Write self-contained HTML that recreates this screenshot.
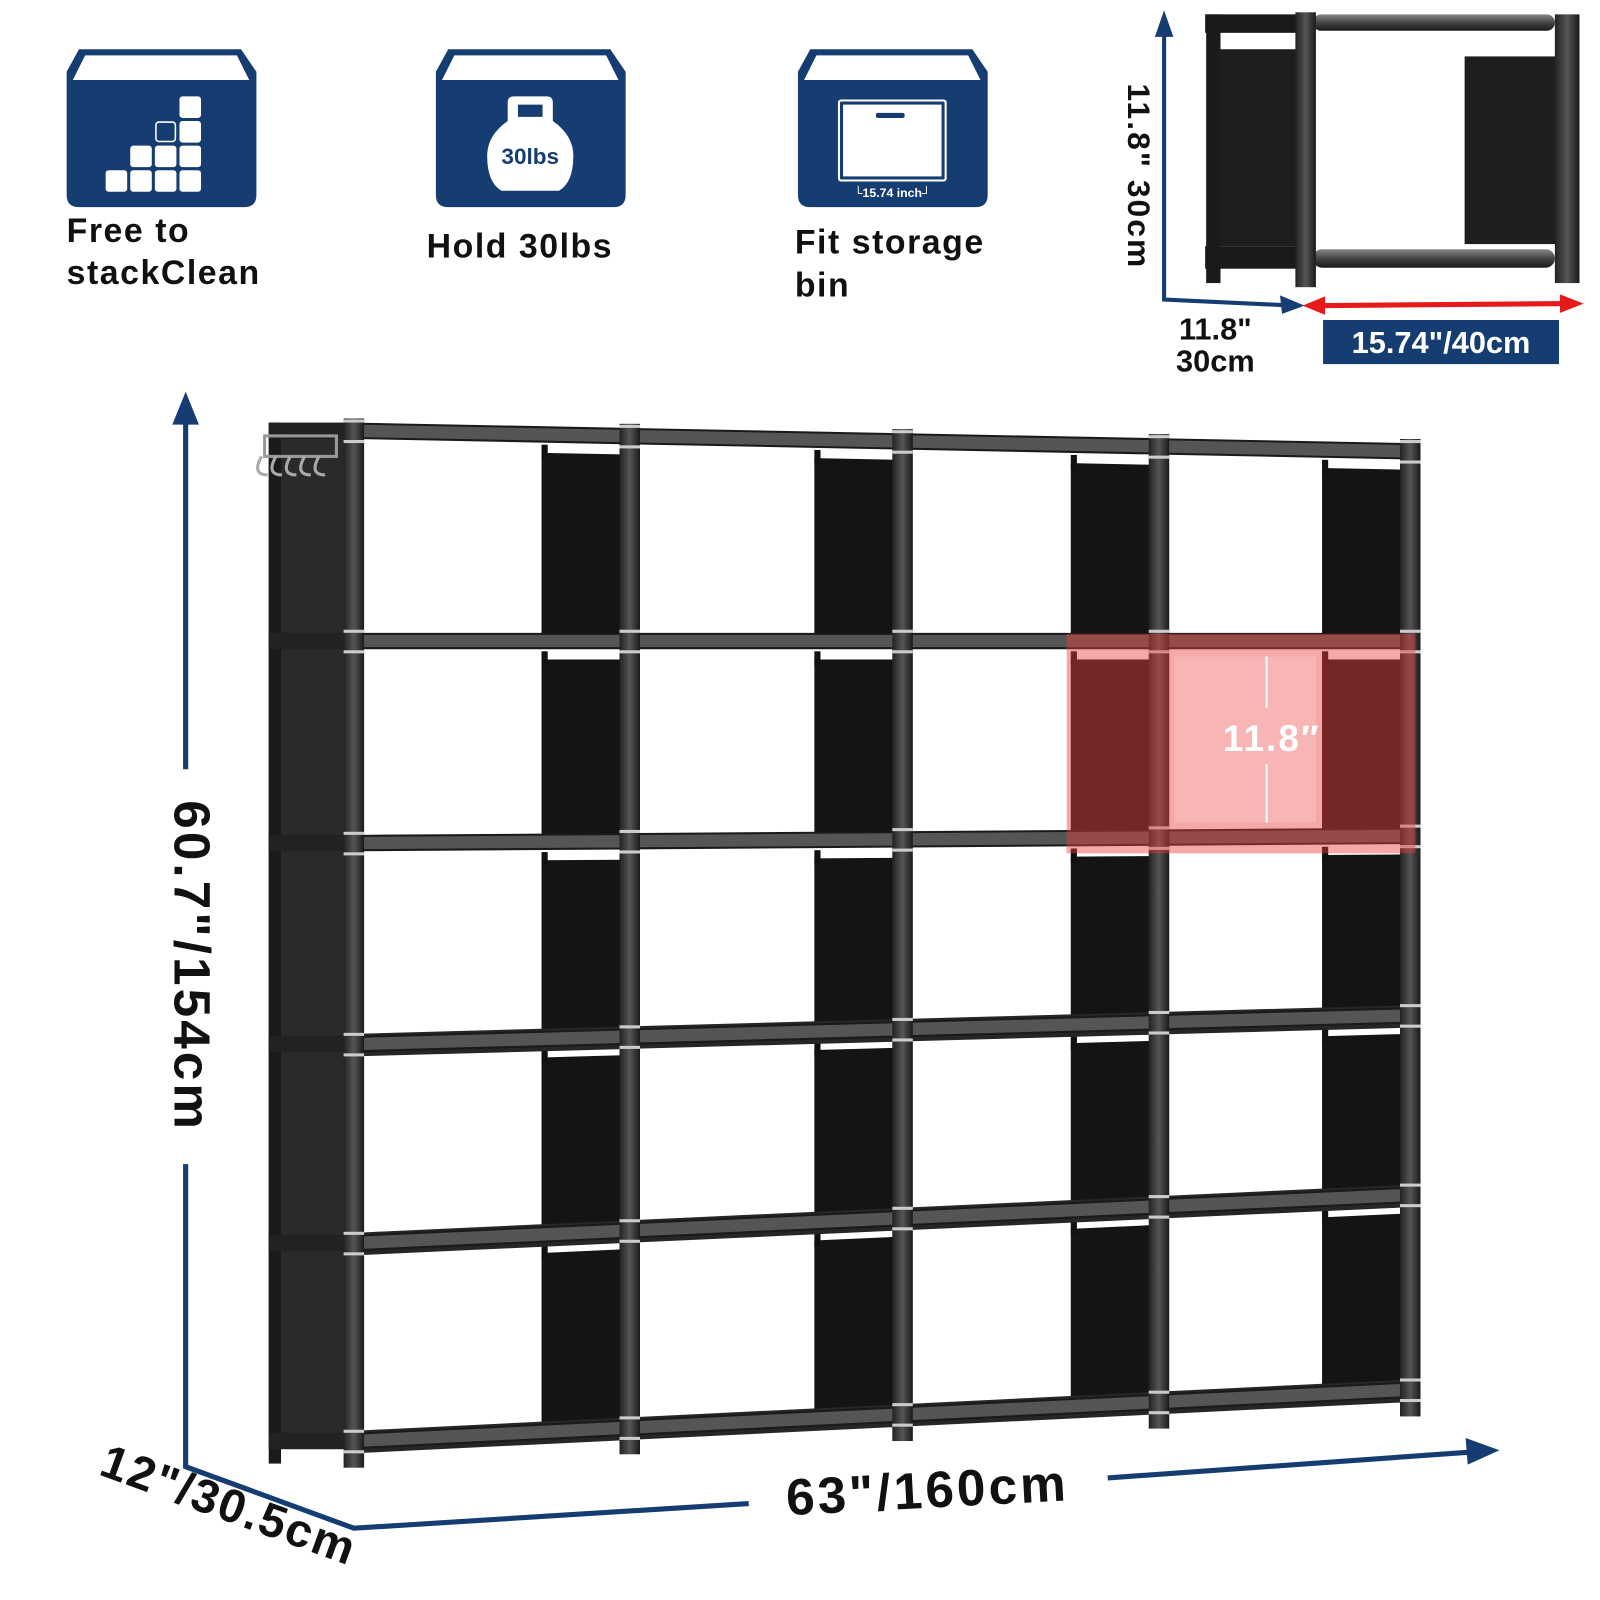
<!DOCTYPE html>
<html><head><meta charset="utf-8"><style>
html,body{margin:0;padding:0;background:#fff;width:1600px;height:1600px;overflow:hidden}
svg{display:block}
text{font-family:"Liberation Sans",sans-serif;font-weight:bold}
</style></head><body>
<svg id="s" width="1600" height="1600" viewBox="0 0 1560 1560" xmlns="http://www.w3.org/2000/svg">
<defs>
<linearGradient id="rod" x1="0" y1="0" x2="0" y2="1"><stop offset="0" stop-color="#888"/><stop offset="0.5" stop-color="#444"/><stop offset="1" stop-color="#1a1a1a"/></linearGradient>
<linearGradient id="post" x1="0" y1="0" x2="1" y2="0"><stop offset="0" stop-color="#222"/><stop offset="0.5" stop-color="#555"/><stop offset="1" stop-color="#1a1a1a"/></linearGradient>
</defs>
<g fill="#163d72">
<g transform="translate(65,48)"><path d="M12,0 H170 L185,22 V142 Q185,154 173,154 H12 Q0,154 0,142 V22 Z"/><path d="M18,6 H166 L178,30 H6 Z" fill="#fff"/>
<g fill="#fff"><rect x="38" y="118" width="21" height="21" rx="3"/><rect x="62" y="118" width="21" height="21" rx="3"/><rect x="86" y="118" width="21" height="21" rx="3"/><rect x="110" y="118" width="21" height="21" rx="3"/><rect x="62" y="94" width="21" height="21" rx="3"/><rect x="86" y="94" width="21" height="21" rx="3"/><rect x="110" y="94" width="21" height="21" rx="3"/><rect x="110" y="70" width="21" height="21" rx="3"/><rect x="110" y="46" width="21" height="21" rx="3"/><rect x="87" y="71" width="19" height="19" rx="3" fill="none" stroke="#fff" stroke-width="1.5"/></g></g>
<g transform="translate(425,48)"><path d="M12,0 H170 L185,22 V142 Q185,154 173,154 H12 Q0,154 0,142 V22 Z"/><path d="M18,6 H166 L178,30 H6 Z" fill="#fff"/>
<path d="M70,52 Q70,46 76,46 H108 Q114,46 114,52 V70 Q134,84 134,104 Q134,130 120,138 H64 Q50,130 50,104 Q50,84 70,70 Z M80,54 V66 H104 V54 Z" fill="#fff" fill-rule="evenodd"/>
<text x="92" y="112" font-size="22" fill="#163d72" text-anchor="middle">30lbs</text></g>
<g transform="translate(778,48)"><path d="M12,0 H170 L185,22 V142 Q185,154 173,154 H12 Q0,154 0,142 V22 Z"/><path d="M18,6 H166 L178,30 H6 Z" fill="#fff"/>
<rect x="40" y="50" width="104" height="78" rx="2" fill="none" stroke="#fff" stroke-width="2"/><rect x="44" y="54" width="96" height="70" fill="#fff"/><rect x="76" y="62" width="28" height="5" rx="2"/>
<text x="92" y="144" font-size="12" fill="#fff" text-anchor="middle">└15.74 inch┘</text></g>
</g>
<g font-size="33" fill="#111" letter-spacing="1.5">
<text x="65" y="236">Free  to</text><text x="65" y="277">stackClean</text>
<text x="416" y="251">Hold  30lbs</text>
<text x="775" y="247">Fit  storage</text><text x="775" y="289">bin</text>
</g>
<g>
<rect x="1190" y="48" width="78" height="192" fill="#1e1e1e"/>
<rect x="1428" y="55" width="94" height="183" fill="#1e1e1e"/>
<rect x="1175" y="14" width="100" height="18" fill="#1a1a1a"/>
<rect x="1280" y="14" width="236" height="16" rx="8" fill="url(#rod)"/>
<rect x="1175" y="240" width="100" height="22" fill="#1a1a1a"/>
<rect x="1280" y="243" width="236" height="18" rx="9" fill="url(#rod)"/>
<rect x="1176" y="14" width="14" height="262" fill="#1a1a1a"/>
<rect x="1263" y="12" width="20" height="268" fill="url(#post)"/>
<rect x="1516" y="14" width="24" height="262" fill="url(#post)"/>
</g>
<g stroke="#163d72" stroke-width="4" fill="none"><path d="M1135,22 V292 L1262,298"/></g>
<path d="M1135,10 L1126,36 L1144,36 Z" fill="#163d72"/>
<path d="M1272,298 L1248,288 L1250,306 Z" fill="#163d72"/>
<line x1="1280" y1="298" x2="1526" y2="296" stroke="#e61a1a" stroke-width="5"/>
<path d="M1270,298 L1292,289 L1292,307 Z M1544,296 L1521,287 L1521,305 Z" fill="#e61a1a"/>
<text transform="translate(1100,172) rotate(90)" font-size="31" fill="#111" text-anchor="middle" letter-spacing="2">11.8"  30cm</text>
<text x="1185" y="331" font-size="30" fill="#111" text-anchor="middle">11.8"</text>
<text x="1185" y="362" font-size="30" fill="#111" text-anchor="middle">30cm</text>
<rect x="1290" y="312" width="230" height="43" fill="#163d72"/>
<text x="1405" y="344" font-size="30" fill="#fff" text-anchor="middle">15.74"/40cm</text>
<g stroke="#163d72" stroke-width="5" fill="none">
<path d="M181,400 V750"/><path d="M181,1135 V1430 L345,1490 L730,1466"/><path d="M1080,1441 L1445,1415"/>
</g>
<path d="M181,382 L168,414 L194,414 Z" fill="#163d72"/>
<path d="M1462,1414 L1429,1402 L1431,1428 Z" fill="#163d72"/>
<text transform="translate(170,942) rotate(90)" font-size="50" fill="#111" text-anchor="middle" letter-spacing="3">60.7"/154cm</text>
<text transform="translate(905,1470) rotate(-3)" font-size="50" fill="#111" text-anchor="middle" letter-spacing="3">63"/160cm</text>
<text transform="translate(218,1482) rotate(20)" font-size="46" fill="#111" text-anchor="middle" letter-spacing="2">12"/30.5cm</text>
<g id="shelf"></g>
<rect x="1040" y="618" width="340" height="214" fill="rgba(235,60,60,0.45)"/>
<rect x="1145" y="640" width="138" height="162" fill="#f7b5b5"/>
<line x1="1235" y1="640" x2="1235" y2="690" stroke="#fff" stroke-width="2"/><line x1="1235" y1="745" x2="1235" y2="802" stroke="#fff" stroke-width="2"/>
<text x="1240" y="732" font-size="36" fill="#fff" text-anchor="middle" letter-spacing="2">11.8″</text>
</svg>
<script>
var g=document.getElementById('shelf'),NS='http://www.w3.org/2000/svg';
function el(t,a){var e=document.createElementNS(NS,t);for(var k in a)e.setAttribute(k,a[k]);g.appendChild(e);return e;}
var P=[345,614,880,1130,1375];
var L=[420,625,822,1018,1212,1405],R=[440,625,815,990,1165,1355];
function Y(x,j){return L[j]+(R[j]-L[j])*(x-345)/1030;}
el('polygon',{points:'262,418 345,420 345,1405 262,1400',fill:'#2a2a2a'});
el('rect',{x:262,y:412,width:12,height:1015,fill:'#1a1a1a'});
for(var j=0;j<6;j++){el('rect',{x:262,y:Y(345,j)-8,width:90,height:16,fill:'#222'});}
for(var i=0;i<4;i++){var x2=P[i+1]-8,x1=x2-78;
 for(var j=0;j<5;j++){var a=Y(x1,j)+18,b=Y(x1,j+1)-6,c=Y(x2,j)+18,d=Y(x2,j+1)-6;
  el('polygon',{points:x1+','+a+' '+x2+','+c+' '+x2+','+d+' '+x1+','+b,fill:'#141414'});
  el('rect',{x:x1,y:a-8,width:6,height:14,fill:'#111'});}}
for(var i=0;i<4;i++){for(var j=0;j<6;j++){var x1=P[i]+8,x2=P[i+1]-8;var y1=Y(x1,j),y2=Y(x2,j);
  if(j>=3){el('polygon',{points:x1+','+(y1-10)+' '+x2+','+(y2-10)+' '+x2+','+(y2+12)+' '+x1+','+(y1+12),fill:'#262626'});}
  el('polygon',{points:x1+','+(y1-7)+' '+x2+','+(y2-7)+' '+x2+','+(y2+7)+' '+x1+','+(y1+7),fill:'#555',stroke:'#1a1a1a','stroke-width':2});}}
for(var i=0;i<5;i++){var x=P[i];el('rect',{x:x-10,y:Y(x,0)-12,width:20,height:Y(x,5)-Y(x,0)+38,fill:'url(#post)'});
 for(var j=0;j<6;j++){el('rect',{x:x-10,y:Y(x,j)-11,width:20,height:3,fill:'#ccc'});el('rect',{x:x-10,y:Y(x,j)+9,width:20,height:3,fill:'#ccc'});}}
el('rect',{x:258,y:425,width:70,height:20,fill:'none',stroke:'#999','stroke-width':3});
for(var k=0;k<5;k++){el('path',{d:'M'+(255+k*14)+',445 q-10,18 6,18',fill:'none',stroke:'#aaa','stroke-width':3});}
</script>
</body></html>
